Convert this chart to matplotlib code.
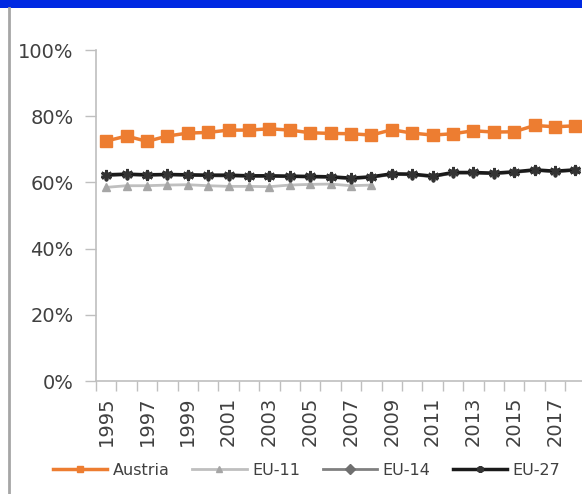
import matplotlib
matplotlib.use("Agg")
import matplotlib.pyplot as plt
from matplotlib.lines import Line2D
from matplotlib.patches import Rectangle
from matplotlib.ticker import FixedLocator, PercentFormatter

years = list(range(1995, 2019))
austria = [72.5, 74.0, 72.4, 74.0, 74.9, 75.1, 75.8, 75.8, 76.2, 75.8, 75.0, 74.8,
           74.7, 74.3, 75.9, 74.9, 74.3, 74.7, 75.6, 75.2, 75.3, 77.2, 76.8, 77.1]
eu11_years = list(range(1995, 2009))
eu11 = [58.5, 59.0, 59.0, 59.2, 59.3, 59.0, 58.8, 58.8, 58.7, 59.2, 59.4, 59.5, 59.0, 59.2]
eu14 = [62.0, 62.3, 62.1, 62.3, 62.1, 62.0, 61.9, 61.8, 61.8, 61.7, 61.6, 61.5,
        61.1, 61.5, 62.4, 62.3, 61.7, 62.8, 62.8, 62.6, 63.0, 63.6, 63.2, 63.6]
eu27 = [62.3, 62.5, 62.3, 62.4, 62.3, 62.2, 62.2, 62.0, 62.0, 61.9, 61.8, 61.7,
        61.3, 61.7, 62.6, 62.5, 61.9, 63.0, 63.0, 62.8, 63.2, 63.8, 63.4, 63.8]
label_years = list(range(1995, 2018, 2))
y_ticks = [0, 20, 40, 60, 80, 100]

W, H = 582, 494
fig = plt.figure(figsize=(W / 100, H / 100), dpi=100)
fig.patch.set_facecolor("white")

# top blue band and left border
fig.add_artist(Rectangle((0, 1 - 8 / H), 1, 8 / H, transform=fig.transFigure,
                         facecolor="#0029E2", edgecolor="none"))
fig.add_artist(Line2D([9 / W, 9 / W], [0, 1 - 8 / H], transform=fig.transFigure,
                      color="#a6a6a6", lw=2))

left, right = 96 / W, 1.0
bottom, top = 1 - 381 / H, 1 - 50 / H
ax = fig.add_axes([left, bottom, right - left, top - bottom])
ax.set_facecolor("none")

ax.plot(years, austria, color="#ED7D31", lw=2.5, marker="s", ms=8,
        mec="#ED7D31", mfc="#ED7D31", label="Austria", zorder=3)
ax.plot(eu11_years, eu11, color="#BFBFBF", lw=2.0, marker="^", ms=6,
        mec="#A6A6A6", mfc="#A6A6A6", label="EU-11", zorder=3)
ax.plot(years, eu14, color="#808080", lw=2.0, marker="D", ms=5,
        mec="#6F6F6F", mfc="#6F6F6F", label="EU-14", zorder=4)
ax.plot(years, eu27, color="#1a1a1a", lw=2.5, marker=(6, 2, 0), ms=8,
        mew=2.0, mec="#333333", label="EU-27", zorder=5)

cat_w = 20.4
ax.set_xlim(1994.5, 1994.5 + (W - 96) / cat_w)
ax.set_ylim(0, 100)

ax.xaxis.set_major_locator(FixedLocator(label_years))
ax.xaxis.set_minor_locator(FixedLocator([y - 0.5 for y in years] + [2018.5]))
ax.set_xticklabels([str(y) for y in label_years], rotation=90)
ax.tick_params(axis="x", which="major", length=0, pad=11, labelsize=14,
               labelcolor="#404040")
ax.tick_params(axis="x", which="minor", length=7, width=1, color="#bfbfbf")

ax.yaxis.set_major_locator(FixedLocator(y_ticks))
ax.yaxis.set_major_formatter(PercentFormatter(decimals=0))
ax.tick_params(axis="y", length=8, width=1, color="#bfbfbf", pad=8,
               labelsize=14, labelcolor="#404040")

for s in ["top", "right"]:
    ax.spines[s].set_visible(False)
for s in ["left", "bottom"]:
    ax.spines[s].set_color("#bfbfbf")
    ax.spines[s].set_linewidth(1.2)

leg = fig.legend(loc="center", bbox_to_anchor=(0.527, 1 - 470 / H), ncol=4,
                 frameon=False, fontsize=11.5, handlelength=3.4,
                 handletextpad=0.35, columnspacing=1.4, labelcolor="#404040")
for h in leg.legend_handles:
    h.set_markersize(5)

fig.savefig("out.png", dpi=100)
